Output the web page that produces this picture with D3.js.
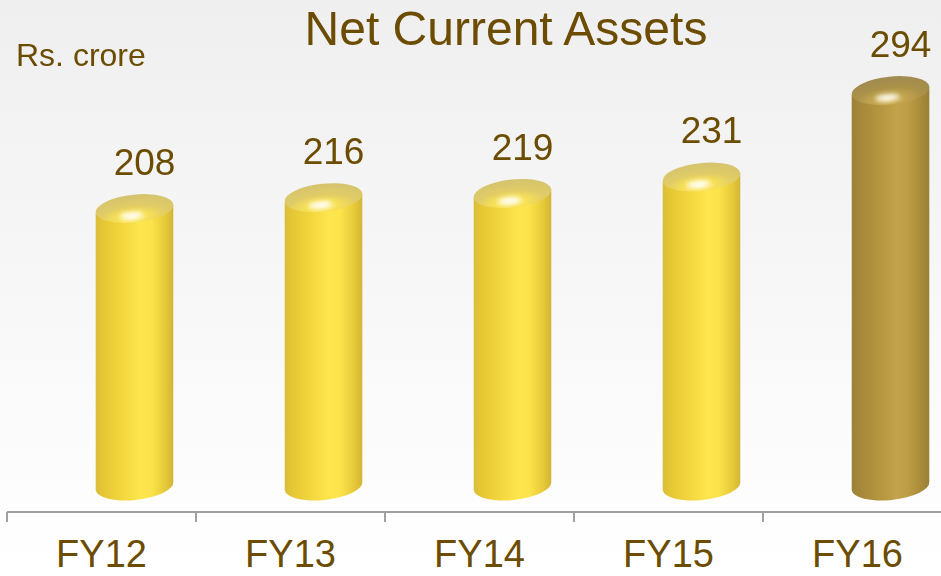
<!DOCTYPE html>
<html>
<head>
<meta charset="utf-8">
<script src="https://cdn.jsdelivr.net/npm/d3@7"></script>
<style>
	html, body { margin: 0; padding: 0; background: #ffffff; }
	svg { display: block; font-family: "Liberation Sans", Arial, sans-serif; }
</style>
</head>
<body>
<svg id="chart" width="941" height="576"></svg>
<script>
// chart data
const categories = ['FY12', 'FY13', 'FY14', 'FY15', 'FY16'];
const values = [208, 216, 219, 231, 294];
const highlighted = ['FY16'];

const chartTitle = 'Net Current Assets';
const unitLabel = 'Rs. crore';

const textColor = '#6b4c00';
const width = 941, height = 576;

const svg = d3.select('#chart');
const defs = svg.append('defs');

// background: light grey at the top fading to white
const bg = defs.append('linearGradient').attr('id', 'bg').attr('x1', 0).attr('y1', 0).attr('x2', 0).attr('y2', 1);
bg.append('stop').attr('offset', 0).attr('stop-color', '#efefef');
bg.append('stop').attr('offset', 0.85).attr('stop-color', '#fdfdfd');
bg.append('stop').attr('offset', 1).attr('stop-color', '#ffffff');
svg.append('rect').attr('width', width).attr('height', height).attr('fill', 'url(#bg)');

// colour sets for the cylinders
const palettes = {
	normal: {
		side: ['#d9bd3c', '#e4c534', '#f3d73e', '#fde64e', '#fbe34a', '#e6c838', '#d2b536'],
		top: ['#fff8c8', '#f8e156', '#e0cc66', '#d6c46e']
	},
	dark: {
		side: ['#9c8038', '#a4863a', '#b4953f', '#c3a34b', '#bd9d45', '#a88a3a', '#978036'],
		top: ['#f0dc9a', '#c4a64f', '#aa9249', '#a18b50']
	}
};

function makeGradients(name, pal)
{
	const side = defs.append('linearGradient').attr('id', 'side-' + name)
		.attr('x1', 0).attr('y1', 0).attr('x2', 1).attr('y2', 0);
	const offs = [0, 0.08, 0.35, 0.58, 0.72, 0.9, 1];
	pal.side.forEach((c, i) => side.append('stop').attr('offset', offs[i]).attr('stop-color', c));

	const top = defs.append('radialGradient').attr('id', 'top-' + name)
		.attr('cx', 0.48).attr('cy', 0.85).attr('r', 0.8).attr('fx', 0.46).attr('fy', 0.8);
	top.append('stop').attr('offset', 0).attr('stop-color', pal.top[0]);
	top.append('stop').attr('offset', 0.25).attr('stop-color', pal.top[1]);
	top.append('stop').attr('offset', 0.55).attr('stop-color', pal.top[2]);
	top.append('stop').attr('offset', 1).attr('stop-color', pal.top[3]);
}
makeGradients('normal', palettes.normal);
makeGradients('dark', palettes.dark);

defs.append('filter').attr('id', 'soft')
	.append('feGaussianBlur').attr('stdDeviation', 0.5);
defs.append('filter').attr('id', 'glow').attr('x', '-50%').attr('y', '-100%').attr('width', '200%').attr('height', '300%')
	.append('feGaussianBlur').attr('stdDeviation', 2);

// scales
const x = d3.scaleBand().domain(categories).range([7, 952]).padding(0);
const y = d3.scaleLinear().domain([0, 300]).range([494, 82.4]);

const barWidth = 78;
const barShift = 33;     // 3D perspective pushes the cylinders right of band centre
const rx = barWidth / 2, ry = 14;
const baseY = 486;
const tilt = -6;
const tiltRad = tilt * Math.PI / 180;
const ex = rx * Math.cos(tiltRad), ey = rx * Math.sin(tiltRad);

const bars = svg.append('g').attr('filter', 'url(#soft)');

categories.forEach(function(cat, i)
{
	const v = values[i];
	const cx = x(cat) + x.bandwidth() / 2 + barShift;
	const topY = y(v);
	const name = highlighted.includes(cat) ? 'dark' : 'normal';
	const g = bars.append('g');

	// body: side closed by the front half of the tilted bottom ellipse
	g.append('path')
		.attr('d', `M${cx - ex},${topY - ey} L${cx - ex},${baseY - ey}` +
			` A${rx},${ry} ${tilt} 0 0 ${cx + ex},${baseY + ey}` +
			` L${cx + ex},${topY + ey} Z`)
		.attr('fill', `url(#side-${name})`);

	// rounded top cap
	g.append('ellipse')
		.attr('cx', cx).attr('cy', topY)
		.attr('rx', rx).attr('ry', ry)
		.attr('transform', `rotate(${tilt},${cx},${topY})`)
		.attr('fill', `url(#top-${name})`);

	// specular streak on the front rim of the cap
	svg.append('ellipse')
		.attr('cx', cx - 4).attr('cy', topY + 6)
		.attr('rx', 12).attr('ry', 3)
		.attr('transform', `rotate(${tilt},${cx},${topY})`)
		.attr('fill', '#ffffff')
		.attr('opacity', 0.85)
		.attr('filter', 'url(#glow)');
});

// axis
const axis = svg.append('g').attr('transform', 'translate(0,512)');
axis.append('line').attr('x1', 7).attr('x2', width).attr('y1', 0).attr('y2', 0)
	.attr('stroke', '#a0a0a0').attr('stroke-width', 2);
axis.selectAll('line.tick')
	.data(categories)
	.join('line')
	.attr('class', 'tick')
	.attr('x1', (d) => x(d)).attr('x2', (d) => x(d))
	.attr('y1', 0).attr('y2', 10)
	.attr('stroke', '#a0a0a0').attr('stroke-width', 2);
axis.selectAll('text')
	.data(categories)
	.join('text')
	.attr('x', (d) => x(d) + x.bandwidth() / 2)
	.attr('y', 55)
	.attr('text-anchor', 'middle')
	.attr('font-size', 38)
	.attr('fill', textColor)
	.text((d) => d);

// value labels
svg.selectAll('text.value')
	.data(categories)
	.join('text')
	.attr('class', 'value')
	.attr('x', (d) => x(d) + x.bandwidth() / 2 + barShift + 10)
	.attr('y', (d, i) => y(values[i]) - 34)
	.attr('text-anchor', 'middle')
	.attr('font-size', 37)
	.attr('fill', textColor)
	.text((d, i) => values[i]);

// titles
svg.append('text')
	.attr('x', 506).attr('y', 45)
	.attr('text-anchor', 'middle')
	.attr('font-size', 48)
	.attr('fill', textColor)
	.text(chartTitle);

svg.append('text')
	.attr('x', 16).attr('y', 66)
	.attr('font-size', 32)
	.attr('fill', textColor)
	.text(unitLabel);
</script>
</body>
</html>
